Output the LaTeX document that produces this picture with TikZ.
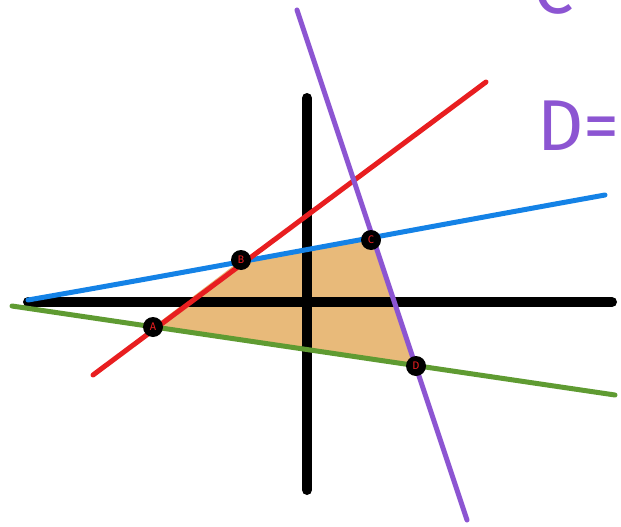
\documentclass[tikz,border=0pt]{standalone}
\usepackage{fontspec}
\setsansfont{Fira Sans}
\usepackage{tikz}
\usetikzlibrary{positioning,calc}

\definecolor{lred}{RGB}{232,30,32}
\definecolor{lblue}{RGB}{20,130,230}
\definecolor{lgreen}{RGB}{95,155,50}
\definecolor{lpurple}{RGB}{140,85,210}
\definecolor{region}{RGB}{232,186,122}

\tikzset{
  axis/.style={line width=10pt, line cap=round, black},
  sketch/.style={line width=5pt, line cap=round},
  vertex/.style={circle, fill=black, minimum size=20pt, inner sep=0pt,
    text=lred, font=\sffamily\fontsize{11}{11}\selectfont},
  bigtext/.style={lpurple, anchor=base west, font=\sffamily\fontsize{72}{72}\selectfont}
}

\begin{document}
\begin{tikzpicture}[x=1pt,y=-1pt]
    \useasboundingbox (0,0) rectangle (621,527);
    \clip (0,0) rectangle (621,527);
    % Feasible region
    \fill[region] (153,327) -- (241,260) -- (371,240) -- (416,366) -- cycle;
    % Line ends
    \coordinate (r1) at (93,375);  \coordinate (r2) at (486,82);
    \coordinate (b1) at (28,300);  \coordinate (b2) at (605,195);
    \coordinate (g1) at (12,306);  \coordinate (g2) at (615,395);
    \coordinate (p1) at (297,10);  \coordinate (p2) at (467,520);
    % Axes
    \draw[axis] (28,302) -- (612,302);
    \draw[axis] (307,98) -- (307,490);
    % Constraint lines
    \draw[sketch, lgreen] (g1) -- (g2);
    \draw[sketch, lblue] (b1) .. controls (200,270) and (400,232) .. (b2);
    \draw[sketch, lred] (r1) -- (r2);
    \draw[sketch, lpurple] (p1) -- (p2);
    % Corners
    \node[vertex] (A) at (153,327) {A};
    \node[vertex] (B) at (241,260) {B};
    \node[vertex] (C) at (371,240) {C};
    \node[vertex] (D) at (416,366) {D};
    % Labels on the right
    \node[bigtext] (Dlab) at (534,150) {D=};
    \node[bigtext] (Clab) at (530,14) {C=};
\end{tikzpicture}
\end{document}
